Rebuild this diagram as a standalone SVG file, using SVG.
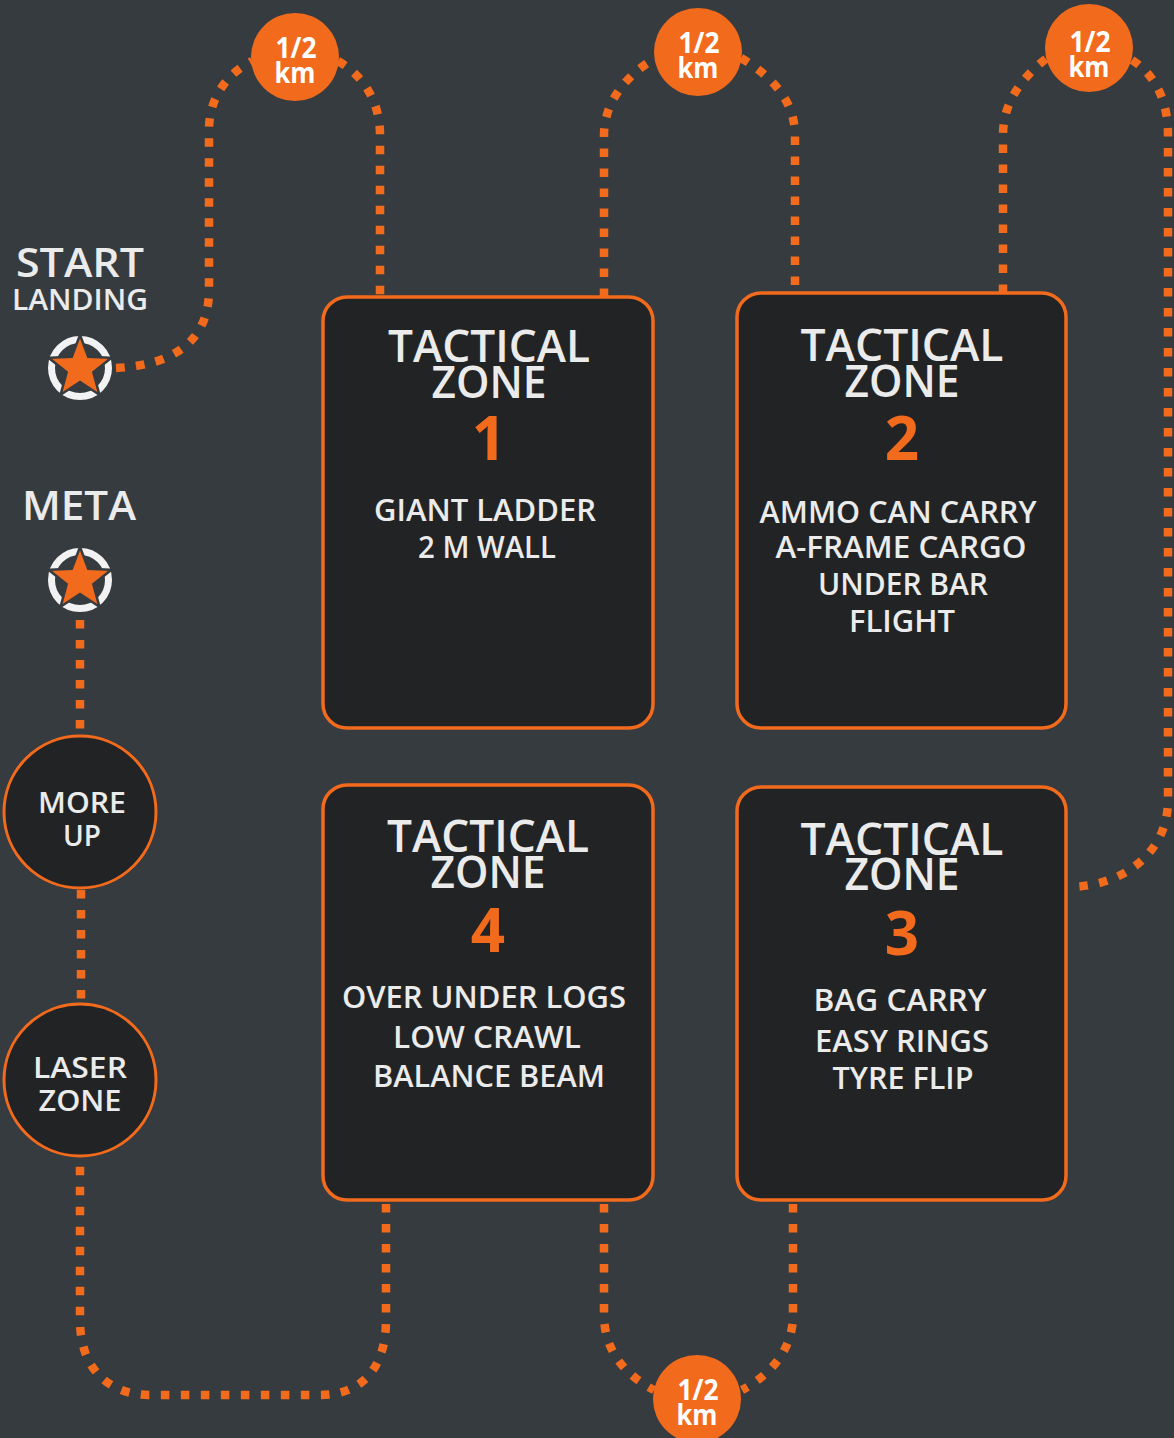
<svg xmlns="http://www.w3.org/2000/svg" width="1174" height="1438" viewBox="0 0 1174 1438">
<defs>
<style>
.bg{fill:#363b3f}
.box{fill:#222324;stroke:#f26b1d;stroke-width:3.5}
.rnd{fill:#222324;stroke:#f26b1d;stroke-width:3}
.km{fill:#f26b1d}
.dot{fill:none;stroke:#f26b1d;stroke-width:8.5;stroke-dasharray:8.5 11.5}
.t{font-family:"Open Sans","Liberation Sans",sans-serif;font-weight:600;fill:#ebebeb;text-anchor:middle}
.h{font-size:45px}
.i{font-size:30px}
.n{font-family:"Open Sans","Liberation Sans",sans-serif;font-weight:700;fill:#f26b1d;text-anchor:middle;font-size:60px}
.k{font-family:"Open Sans","Liberation Sans",sans-serif;font-weight:700;fill:#ffffff;text-anchor:middle;font-size:29px}
</style>
<g id="star">
<circle cx="0" cy="0" r="28.5" fill="none" stroke="#f2f2f2" stroke-width="7"/>
<polygon points="0,-33 8.2,-11.3 31.4,-10.2 13.3,4.3 19.4,26.7 0,14 -19.4,26.7 -13.3,4.3 -31.4,-10.2 -8.2,-11.3" fill="#f26b1d" stroke="#363b3f" stroke-width="2.5" stroke-linejoin="miter"/>
</g>
</defs>
<rect class="bg" x="0" y="0" width="1174" height="1438"/>

<g id="connectors">
<path class="dot" d="M116 368 C175 365 209 340 209 290 L209 130 C209 95 230 72 252 61"/>
<path class="dot" d="M338 61 C362 75 380 100 380 135 L380 297"/>
<path class="dot" d="M604 297 L604 135 C604 100 630 72 656 58"/>
<path class="dot" d="M741 58 C770 75 795 100 795 135 L795 293"/>
<path class="dot" d="M1003 293 L1003 135 C1003 100 1025 75 1047 58"/>
<path class="dot" d="M1132 60 C1155 75 1168 100 1168 135 L1168 800 C1168 855 1120 887 1068 887"/>
<path class="dot" d="M793 1204 L793 1315 C793 1350 770 1375 742 1390"/>
<path class="dot" d="M604 1204 L604 1315 C604 1350 625 1375 654 1390"/>
<path class="dot" d="M386 1204 L386 1320 C386 1370 360 1395 320 1395 L150 1395 C110 1395 80 1370 80 1320 L80 1160"/>
<path class="dot" d="M80 620 L80 735"/>
<path class="dot" d="M81 890 L81 1003"/>
</g>

<g id="start">
<text class="t" x="80" y="277" font-size="40" textLength="128" lengthAdjust="spacingAndGlyphs">START</text>
<text class="t" x="80" y="310" font-size="28" textLength="136" lengthAdjust="spacingAndGlyphs">LANDING</text>
<use href="#star" x="80" y="368"/>
</g>

<g id="meta">
<text class="t" x="79" y="520" font-size="40" textLength="114" lengthAdjust="spacingAndGlyphs">META</text>
<use href="#star" x="80" y="580"/>
</g>

<g id="more-up">
<circle class="rnd" cx="80" cy="812" r="76"/>
<text class="t" x="82" y="813" font-size="29" textLength="88" lengthAdjust="spacingAndGlyphs">MORE</text>
<text class="t" x="82" y="846" font-size="29" textLength="38" lengthAdjust="spacingAndGlyphs">UP</text>
</g>

<g id="laser-zone">
<circle class="rnd" cx="80" cy="1080" r="76"/>
<text class="t" x="80" y="1078" font-size="29" textLength="94" lengthAdjust="spacingAndGlyphs">LASER</text>
<text class="t" x="80" y="1111" font-size="29" textLength="83" lengthAdjust="spacingAndGlyphs">ZONE</text>
</g>

<g id="km1">
<circle class="km" cx="295" cy="57" r="44"/>
<text class="k" x="296" y="58" textLength="41" lengthAdjust="spacingAndGlyphs">1/2</text>
<text class="k" x="295" y="83" textLength="41" lengthAdjust="spacingAndGlyphs">km</text>
</g>
<g id="km2">
<circle class="km" cx="698" cy="52" r="44"/>
<text class="k" x="699" y="53" textLength="41" lengthAdjust="spacingAndGlyphs">1/2</text>
<text class="k" x="698" y="78" textLength="41" lengthAdjust="spacingAndGlyphs">km</text>
</g>
<g id="km3">
<circle class="km" cx="1089" cy="48" r="44"/>
<text class="k" x="1090" y="52" textLength="41" lengthAdjust="spacingAndGlyphs">1/2</text>
<text class="k" x="1089" y="77" textLength="41" lengthAdjust="spacingAndGlyphs">km</text>
</g>
<g id="km4">
<circle class="km" cx="697" cy="1399" r="44"/>
<text class="k" x="698" y="1400" textLength="41" lengthAdjust="spacingAndGlyphs">1/2</text>
<text class="k" x="697" y="1425" textLength="41" lengthAdjust="spacingAndGlyphs">km</text>
</g>

<g id="zone1">
<rect class="box" x="323" y="297" width="330" height="431" rx="24"/>
<text class="t h" x="489" y="362" textLength="202" lengthAdjust="spacingAndGlyphs">TACTICAL</text>
<text class="t h" x="489" y="398" textLength="115" lengthAdjust="spacingAndGlyphs">ZONE</text>
<text class="n" x="489" y="460">1</text>
<text class="t i" x="485" y="521" textLength="222" lengthAdjust="spacingAndGlyphs">GIANT LADDER</text>
<text class="t i" x="487" y="558" textLength="138" lengthAdjust="spacingAndGlyphs">2 M WALL</text>
</g>

<g id="zone2">
<rect class="box" x="737" y="293" width="329" height="435" rx="24"/>
<text class="t h" x="902" y="361" textLength="203" lengthAdjust="spacingAndGlyphs">TACTICAL</text>
<text class="t h" x="902" y="397" textLength="115" lengthAdjust="spacingAndGlyphs">ZONE</text>
<text class="n" x="902" y="460">2</text>
<text class="t i" x="898" y="523" textLength="277" lengthAdjust="spacingAndGlyphs">AMMO CAN CARRY</text>
<text class="t i" x="901" y="558" textLength="251" lengthAdjust="spacingAndGlyphs">A-FRAME CARGO</text>
<text class="t i" x="903" y="595" textLength="170" lengthAdjust="spacingAndGlyphs">UNDER BAR</text>
<text class="t i" x="902" y="632" textLength="106" lengthAdjust="spacingAndGlyphs">FLIGHT</text>
</g>

<g id="zone4">
<rect class="box" x="323" y="785" width="330" height="415" rx="24"/>
<text class="t h" x="488" y="852" textLength="202" lengthAdjust="spacingAndGlyphs">TACTICAL</text>
<text class="t h" x="488" y="888" textLength="115" lengthAdjust="spacingAndGlyphs">ZONE</text>
<text class="n" x="488" y="952">4</text>
<text class="t i" x="484" y="1008" textLength="284" lengthAdjust="spacingAndGlyphs">OVER UNDER LOGS</text>
<text class="t i" x="487" y="1048" textLength="188" lengthAdjust="spacingAndGlyphs">LOW CRAWL</text>
<text class="t i" x="489" y="1087" textLength="232" lengthAdjust="spacingAndGlyphs">BALANCE BEAM</text>
</g>

<g id="zone3">
<rect class="box" x="737" y="787" width="329" height="413" rx="24"/>
<text class="t h" x="902" y="855" textLength="203" lengthAdjust="spacingAndGlyphs">TACTICAL</text>
<text class="t h" x="902" y="890" textLength="115" lengthAdjust="spacingAndGlyphs">ZONE</text>
<text class="n" x="902" y="955">3</text>
<text class="t i" x="900" y="1011" textLength="173" lengthAdjust="spacingAndGlyphs">BAG CARRY</text>
<text class="t i" x="902" y="1052" textLength="174" lengthAdjust="spacingAndGlyphs">EASY RINGS</text>
<text class="t i" x="903" y="1089" textLength="141" lengthAdjust="spacingAndGlyphs">TYRE FLIP</text>
</g>
</svg>
